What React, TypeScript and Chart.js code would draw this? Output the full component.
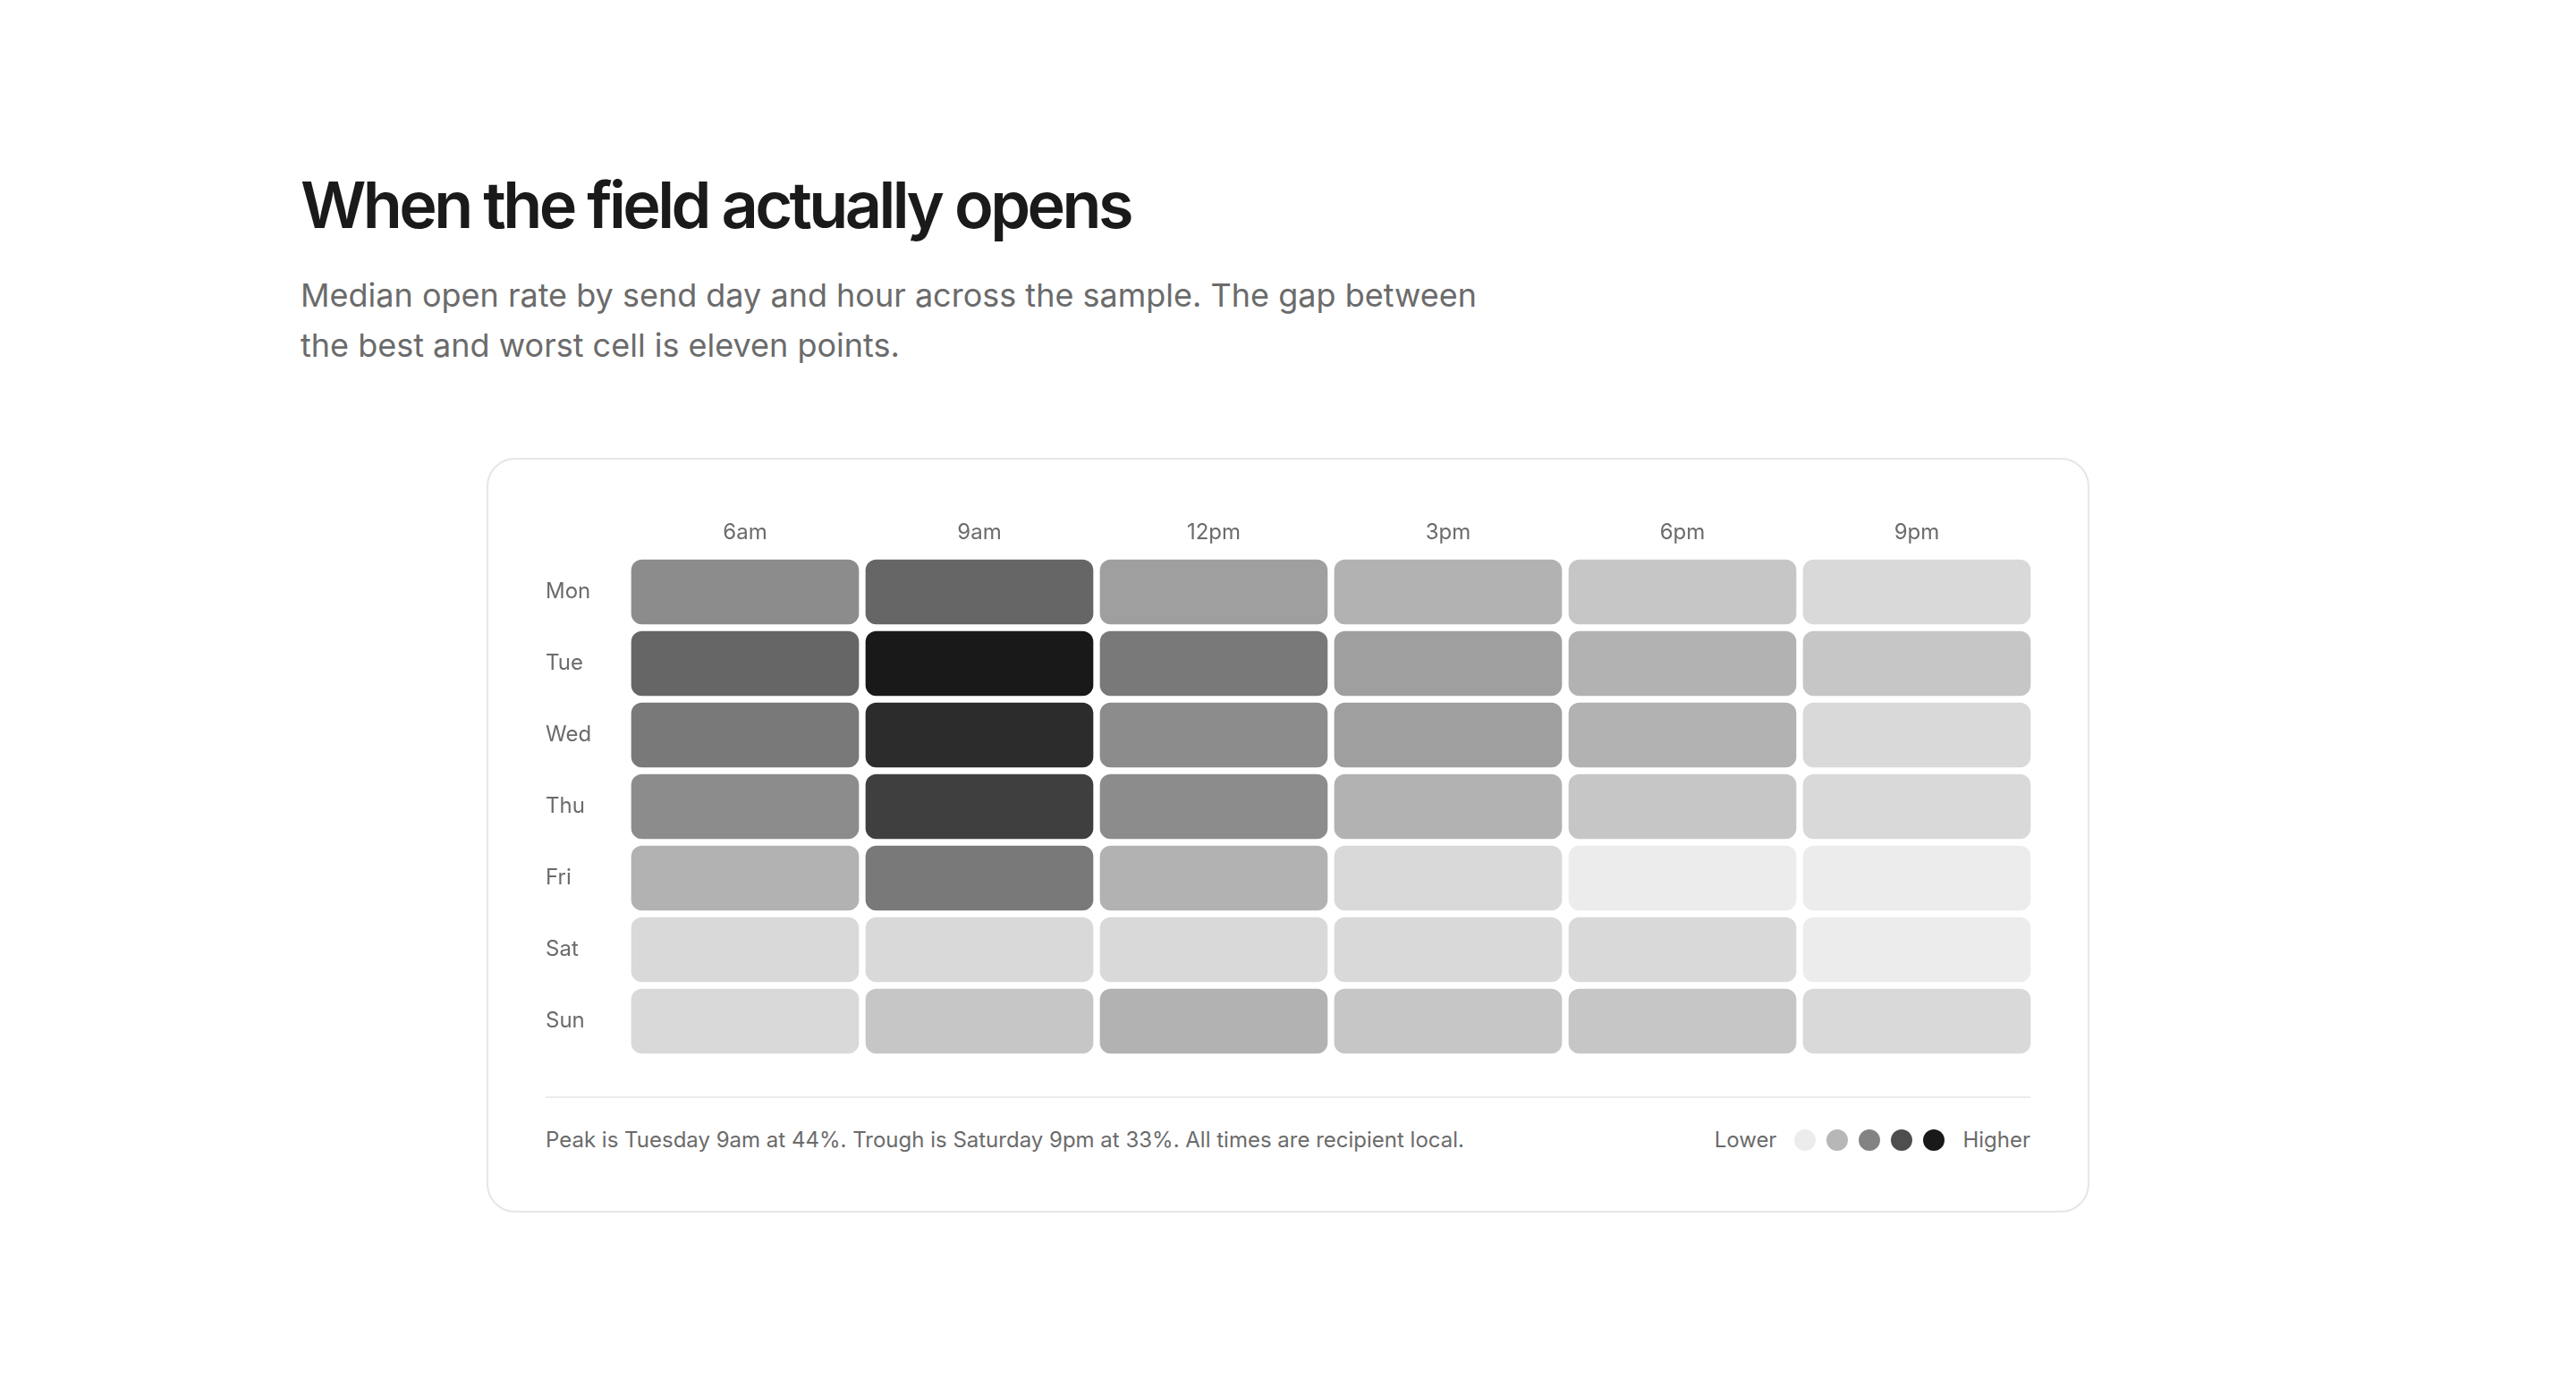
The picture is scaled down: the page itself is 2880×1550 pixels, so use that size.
import { useEffect, useRef } from "react"
import { Chart, registerables } from "chart.js"

Chart.register(...registerables)

const days = ["Mon", "Tue", "Wed", "Thu", "Fri", "Sat", "Sun"]
const hours = ["6am", "9am", "12pm", "3pm", "6pm", "9pm"]

// median open rate (%) per send hour
const mon = [38, 40, 37, 36, 35, 34]
const tue = [40, 44, 39, 37, 36, 35]
const wed = [39, 43, 38, 37, 36, 34]
const thu = [38, 42, 38, 36, 35, 34]
const fri = [36, 39, 36, 34, 33, 33]
const sat = [34, 34, 34, 34, 34, 33]
const sun = [34, 35, 36, 35, 35, 34]

const rows = [mon, tue, wed, thu, fri, sat, sun]

const allValues = rows.flat()
const minValue = Math.min(...allValues)
const maxValue = Math.max(...allValues)

// light grey for the lowest cell, near black for the highest
function shade(t: number) {
  const g = Math.round(236 - t * 211)
  return `rgb(${g}, ${g}, ${g})`
}

function cellColor(v: number) {
  return shade((v - minValue) / (maxValue - minValue))
}

const legendSteps = [0, 0.25, 0.5, 0.75, 1]

const FONT = "Inter, 'Noto Sans', sans-serif"
// white cell border = half of the gap between cells
const GAP = 4

function Heatmap() {
  const chartRef = useRef<HTMLCanvasElement>(null)
  const chartInstance = useRef<Chart | null>(null)

  useEffect(() => {
    if (!chartRef.current) return
    const ctx = chartRef.current.getContext("2d")
    if (!ctx) return
    if (chartInstance.current) chartInstance.current.destroy()

    chartInstance.current = new Chart(ctx, {
      type: "bar",
      data: {
        labels: days,
        datasets: hours.map((h, j) => ({
          label: h,
          data: days.map(() => [j, j + 1]),
          backgroundColor: rows.map((r) => cellColor(r[j])),
          borderColor: "#ffffff",
          borderWidth: GAP,
          borderSkipped: false,
          borderRadius: 12 + GAP,
          barPercentage: 1,
          categoryPercentage: 1,
          grouped: false,
        })),
      } as any,
      options: {
        indexAxis: "y",
        animation: false,
        responsive: true,
        maintainAspectRatio: false,
        layout: { padding: 0 },
        scales: {
          x: {
            type: "linear",
            min: 0,
            max: hours.length,
            display: false,
          },
          x2: {
            type: "category",
            labels: hours,
            position: "top",
            offset: true,
            grid: { display: false, drawTicks: false },
            border: { display: false },
            ticks: {
              color: "#6b6b6b",
              padding: 12,
              font: { family: FONT, size: 24 },
            },
            afterFit: (scale: any) => {
              scale.height = 40 + GAP
            },
          },
          y: {
            type: "category",
            grid: { display: false, drawTicks: false },
            border: { display: false },
            ticks: {
              color: "#6b6b6b",
              padding: 0,
              crossAlign: "far",
              font: { family: FONT, size: 24 },
            },
            afterFit: (scale: any) => {
              scale.width = 96 - GAP
              scale.paddingTop = 0
              scale.paddingBottom = 0
            },
          },
        } as any,
        plugins: {
          legend: { display: false },
          tooltip: { enabled: false },
        },
      },
    })

    return () => {
      if (chartInstance.current) {
        chartInstance.current.destroy()
        chartInstance.current = null
      }
    }
  }, [])

  return (
    <div style={{ position: "relative", height: "604px", marginRight: `-${GAP}px` }}>
      <canvas ref={chartRef}></canvas>
    </div>
  )
}

export default function App() {
  return (
    <div style={{ maxWidth: "2208px", margin: "0 auto", paddingTop: "180px", fontFamily: FONT }}>
      <h1
        style={{
          margin: 0,
          fontSize: "72px",
          lineHeight: 1.15,
          fontWeight: 600,
          letterSpacing: "-0.05em",
          color: "#1a1a1a",
        }}
      >
        When the field actually opens
      </h1>
      <p
        style={{
          margin: "32px 0 0",
          maxWidth: "1360px",
          fontSize: "36px",
          lineHeight: 1.55,
          color: "#6b6b6b",
        }}
      >
        Median open rate by send day and hour across the sample. The gap between the best and worst cell is eleven
        points.
      </p>
      <div
        style={{
          maxWidth: "1792px",
          margin: "98px auto 0",
          border: "2px solid #e6e6e6",
          borderRadius: "32px",
          padding: "64px",
          boxSizing: "border-box",
          background: "#ffffff",
        }}
      >
        <Heatmap />
        <div
          style={{
            marginTop: "44px",
            paddingTop: "32px",
            borderTop: "2px solid #ececec",
            display: "flex",
            justifyContent: "space-between",
            alignItems: "center",
            fontSize: "24px",
            lineHeight: "30px",
            color: "#6b6b6b",
          }}
        >
          <span>Peak is Tuesday 9am at 44%. Trough is Saturday 9pm at 33%. All times are recipient local.</span>
          <span style={{ display: "flex", alignItems: "center" }}>
            <span style={{ marginRight: "20px" }}>Lower</span>
            {legendSteps.map((t, i) => (
              <span
                key={i}
                style={{
                  width: "24px",
                  height: "24px",
                  borderRadius: "50%",
                  background: shade(t),
                  marginRight: i === legendSteps.length - 1 ? "20px" : "12px",
                }}
              />
            ))}
            <span>Higher</span>
          </span>
        </div>
      </div>
    </div>
  )
}
